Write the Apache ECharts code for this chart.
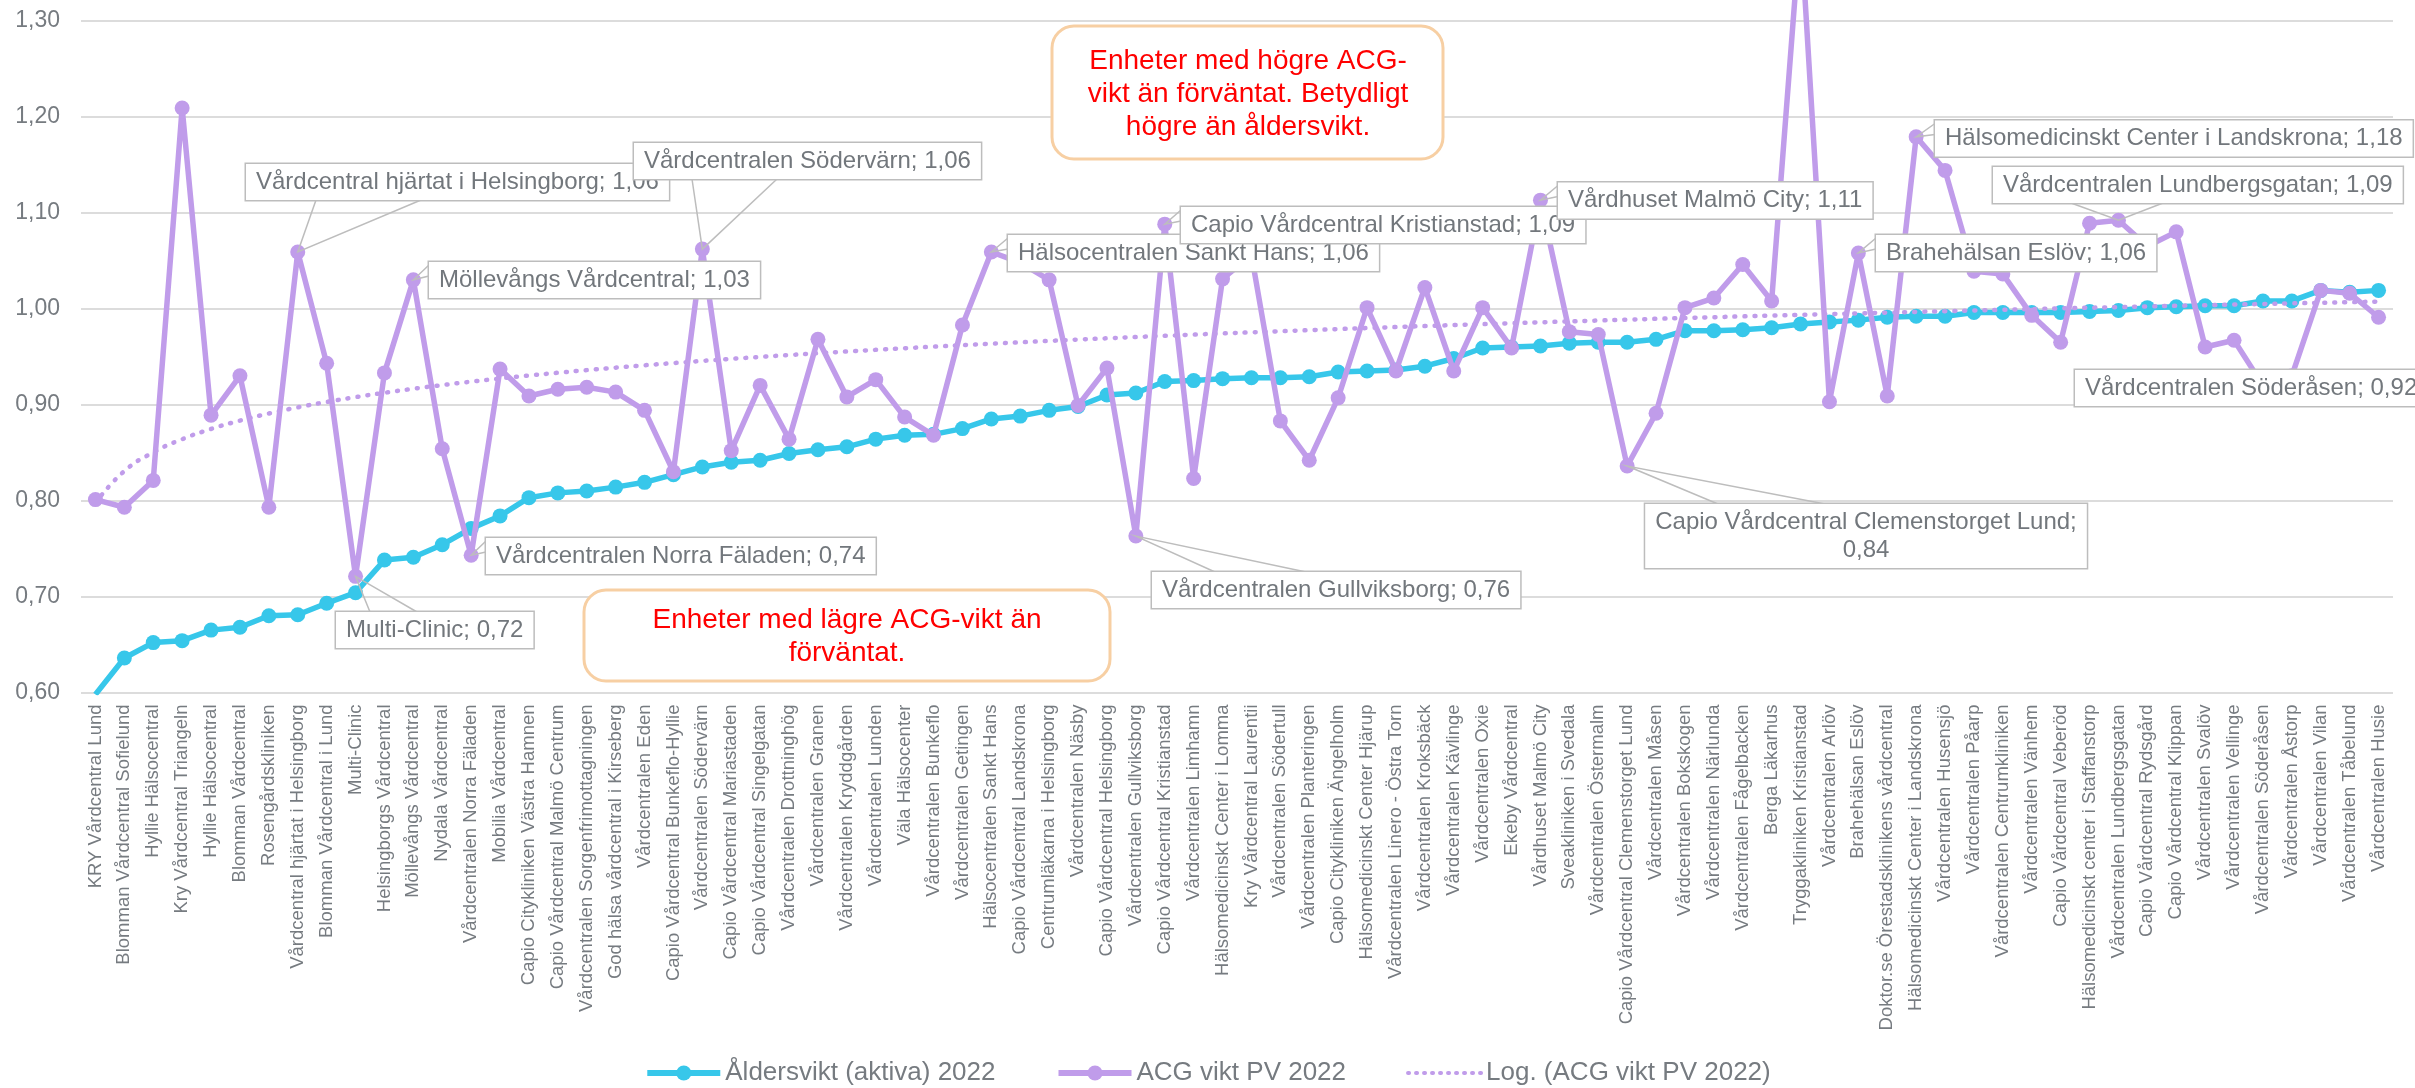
<!DOCTYPE html>
<html>
<head>
<meta charset="utf-8">
<script src="https://cdn.jsdelivr.net/npm/echarts@6/dist/echarts.min.js"></script>
<style>
  html, body { margin: 0; padding: 0; background: #ffffff; }
  #chart { width: 2415px; height: 1088px; }
</style>
</head>
<body>
<div id="chart"></div>
<script>
const categories = [
  "KRY Vårdcentral Lund", "Blomman Vårdcentral Sofielund", "Hyllie Hälsocentral", "Kry Vårdcentral Triangeln",
  "Hyllie Hälsocentral", "Blomman Vårdcentral", "Rosengårdskliniken", "Vårdcentral hjärtat i Helsingborg",
  "Blomman Vårdcentral i Lund", "Multi-Clinic", "Helsingborgs Vårdcentral", "Möllevångs Vårdcentral",
  "Nydala Vårdcentral", "Vårdcentralen Norra Fäladen", "Mobilia Vårdcentral", "Capio Citykliniken Västra Hamnen",
  "Capio Vårdcentral Malmö Centrum", "Vårdcentralen Sorgenfrimottagningen", "God hälsa vårdcentral i Kirseberg", "Vårdcentralen Eden",
  "Capio Vårdcentral Bunkeflo-Hyllie", "Vårdcentralen Södervärn", "Capio Vårdcentral Mariastaden", "Capio Vårdcentral Singelgatan",
  "Vårdcentralen Drottninghög", "Vårdcentralen Granen", "Vårdcentralen Kryddgården", "Vårdcentralen Lunden",
  "Väla Hälsocenter", "Vårdcentralen Bunkeflo", "Vårdcentralen Getingen", "Hälsocentralen Sankt Hans",
  "Capio Vårdcentral Landskrona", "Centrumläkarna i Helsingborg", "Vårdcentralen Näsby", "Capio Vårdcentral Helsingborg",
  "Vårdcentralen Gullviksborg", "Capio Vårdcentral Kristianstad", "Vårdcentralen Limhamn", "Hälsomedicinskt Center i Lomma",
  "Kry Vårdcentral Laurentii", "Vårdcentralen Södertull", "Vårdcentralen Planteringen", "Capio Citykliniken Ängelholm",
  "Hälsomedicinskt Center Hjärup", "Vårdcentralen Linero - Östra Torn", "Vårdcentralen Kroksbäck", "Vårdcentralen Kävlinge",
  "Vårdcentralen Oxie", "Ekeby Vårdcentral", "Vårdhuset Malmö City", "Sveakliniken i Svedala",
  "Vårdcentralen Östermalm", "Capio Vårdcentral Clemenstorget Lund", "Vårdcentralen Måsen", "Vårdcentralen Bokskogen",
  "Vårdcentralen Närlunda", "Vårdcentralen Fågelbacken", "Berga Läkarhus", "Tryggakliniken Kristianstad",
  "Vårdcentralen Arlöv", "Brahehälsan Eslöv", "Doktor.se Örestadsklinikens vårdcentral", "Hälsomedicinskt Center i Landskrona",
  "Vårdcentralen Husensjö", "Vårdcentralen Påarp", "Vårdcentralen Centrumkliniken", "Vårdcentralen Vänhem",
  "Capio Vårdcentral Veberöd", "Hälsomedicinskt center i Staffanstorp", "Vårdcentralen Lundbergsgatan", "Capio Vårdcentral Rydsgård",
  "Capio Vårdcentral Klippan", "Vårdcentralen Svalöv", "Vårdcentralen Vellinge", "Vårdcentralen Söderåsen",
  "Vårdcentralen Åstorp", "Vårdcentralen Vilan", "Vårdcentralen Tåbelund", "Vårdcentralen Husie"
];

const aldersvikt = [
  0.598, 0.636, 0.652, 0.654, 0.665, 0.668, 0.680, 0.681, 0.693, 0.704,
  0.738, 0.741, 0.754, 0.771, 0.784, 0.803, 0.808, 0.810, 0.814, 0.819,
  0.827, 0.835, 0.840, 0.842, 0.849, 0.853, 0.856, 0.864, 0.868, 0.869,
  0.875, 0.885, 0.888, 0.894, 0.898, 0.910, 0.912, 0.924, 0.925, 0.927,
  0.928, 0.928, 0.929, 0.934, 0.935, 0.936, 0.940, 0.948, 0.959, 0.960,
  0.961, 0.964, 0.965, 0.965, 0.968, 0.977, 0.977, 0.978, 0.980, 0.984,
  0.986, 0.988, 0.991, 0.992, 0.992, 0.996, 0.996, 0.996, 0.996, 0.997,
  0.998, 1.001, 1.002, 1.003, 1.003, 1.008, 1.008, 1.019, 1.017, 1.019
];

const acgVikt = [
  0.801, 0.793, 0.821, 1.209, 0.889, 0.930, 0.793, 1.059, 0.943, 0.721,
  0.933, 1.030, 0.854, 0.743, 0.937, 0.909, 0.916, 0.918, 0.913, 0.894,
  0.830, 1.062, 0.852, 0.920, 0.864, 0.968, 0.908, 0.926, 0.887, 0.868,
  0.983, 1.059, 1.048, 1.030, 0.899, 0.938, 0.763, 1.088, 0.823, 1.031,
  1.056, 0.883, 0.842, 0.907, 1.001, 0.935, 1.022, 0.935, 1.001, 0.959,
  1.113, 0.976, 0.973, 0.836, 0.891, 1.001, 1.011, 1.046, 1.008, 1.400,
  0.903, 1.058, 0.909, 1.179, 1.144, 1.039, 1.036, 0.993, 0.965, 1.089,
  1.092, 1.065, 1.080, 0.960, 0.967, 0.920, 0.930, 1.019, 1.016, 0.991
];

const seriesNames = ["Åldersvikt (aktiva) 2022", "ACG vikt PV 2022", "Log. (ACG vikt PV 2022)"];
const yMin = 0.6, yMax = 1.3, yStep = 0.1;

// labelled points (index into categories)
const labelledPoints = [7, 11, 9, 13, 21, 31, 36, 37, 50, 53, 61, 63, 70, 75];

// Logarithmic trendline (least squares of ACG on ln(x)), as Excel computes it
function logTrend(values) {
  const n = values.length;
  let sx = 0, sy = 0, sxx = 0, sxy = 0;
  values.forEach((v, i) => {
    const lx = Math.log(i + 1);
    sx += lx; sy += v; sxx += lx * lx; sxy += lx * v;
  });
  const a = (n * sxy - sx * sy) / (n * sxx - sx * sx);
  const b = (sy - a * sx) / n;
  return values.map((_, i) => a * Math.log(i + 1) + b);
}
const trend = logTrend(acgVikt);

const FONT = '"Liberation Sans", Arial, sans-serif';
const TXT = '#767b80';
const CYAN = '#37C7EA';
const PURPLE = '#C09CEA';
const fmt = v => v.toFixed(2).replace('.', ',');

const chart = echarts.init(document.getElementById('chart'), null, { renderer: 'canvas' });

chart.setOption({
  animation: false,
  backgroundColor: '#ffffff',
  textStyle: { fontFamily: FONT },
  grid: { left: 81, right: 22, top: 20.7, bottom: 395.5, containLabel: false },
  legend: {
    top: 1055,
    left: 'center',
    itemWidth: 73,
    itemHeight: 19,
    itemGap: 60,
    textStyle: { fontSize: 26, color: TXT, fontFamily: FONT },
    data: [
      { name: seriesNames[0], itemStyle: { color: CYAN }, lineStyle: { color: CYAN, width: 6 } },
      { name: seriesNames[1], itemStyle: { color: PURPLE }, lineStyle: { color: PURPLE, width: 6 } },
      { name: seriesNames[2], itemStyle: { opacity: 0 }, lineStyle: { color: PURPLE, width: 4, type: [1, 7], cap: 'round' } }
    ]
  },
  xAxis: {
    type: 'category',
    data: categories,
    boundaryGap: true,
    axisLine: { show: false },
    axisTick: { show: false },
    axisLabel: { rotate: 90, interval: 0, fontSize: 18.5, color: TXT, margin: 12, fontFamily: FONT }
  },
  yAxis: {
    type: 'value',
    min: yMin, max: yMax, interval: yStep,
    axisLine: { show: false },
    axisTick: { show: false },
    axisLabel: { formatter: v => fmt(v), fontSize: 23, color: TXT, margin: 21, fontFamily: FONT },
    splitLine: { lineStyle: { color: '#DCDCDC', width: 2 } }
  },
  series: [
    {
      name: seriesNames[0], type: 'line', data: aldersvikt,
      symbol: 'circle', symbolSize: 15,
      lineStyle: { color: CYAN, width: 5.5 },
      itemStyle: { color: CYAN },
      z: 2
    },
    {
      name: seriesNames[1], type: 'line', data: acgVikt,
      symbol: 'circle', symbolSize: 15, clip: false,
      lineStyle: { color: PURPLE, width: 5.5 },
      itemStyle: { color: PURPLE },
      z: 3
    },
    {
      name: seriesNames[2], type: 'line', data: trend,
      symbol: 'none', showSymbol: false, smooth: true,
      lineStyle: { color: PURPLE, width: 4.5, type: [1, 9], cap: 'round' },
      itemStyle: { color: PURPLE },
      z: 4
    }
  ]
});

// Callout label layout (box top-left in px, wedge side and base offsets)
const labelLayout = {
  7:  { x: 246,  y: 164,   side: 'bottom', b: [70, 175] },
  9:  { x: 336,  y: 612,   side: 'top',    b: [34, 81] },
  11: { x: 429,  y: 262,   side: 'left',   b: [3, 14] },
  13: { x: 486,  y: 538,   side: 'left',   b: [3, 14] },
  21: { x: 634,  y: 143,   side: 'bottom', b: [58, 143] },
  31: { x: 1008, y: 235,   side: 'left',   b: [3, 14] },
  36: { x: 1152, y: 572,   side: 'top',    b: [63, 154] },
  37: { x: 1181, y: 207,   side: 'left',   b: [3, 14] },
  50: { x: 1558, y: 182.5, side: 'left',   b: [3, 14] },
  53: { x: 1645, y: 504,   side: 'top',    b: [73, 180], cx: 1866, twoLine: true },
  61: { x: 1876, y: 235,   side: 'left',   b: [3, 14] },
  63: { x: 1935, y: 120.5, side: 'left',   b: [3, 14] },
  70: { x: 1993, y: 167,   side: 'bottom', b: [78, 170] },
  75: { x: 2075, y: 370,   side: 'none' }
};

function buildGraphics() {
  const els = [];
  // annotation boxes
  els.push({ type: 'rect', z: 50, shape: { x: 1052, y: 26, width: 391, height: 133, r: 22 },
    style: { fill: '#ffffff', stroke: '#F7CFA3', lineWidth: 3 } });
  els.push({ type: 'text', z: 51, x: 1248, y: 94,
    style: { text: 'Enheter med högre ACG-\nvikt än förväntat. Betydligt\nhögre än åldersvikt.',
      font: '28px ' + FONT, fill: '#FF0000', align: 'center', verticalAlign: 'middle',
      textAlign: 'center', textVerticalAlign: 'middle', lineHeight: 33 } });
  els.push({ type: 'rect', z: 50, shape: { x: 584, y: 590, width: 526, height: 91, r: 22 },
    style: { fill: '#ffffff', stroke: '#F7CFA3', lineWidth: 3 } });
  els.push({ type: 'text', z: 51, x: 847, y: 637,
    style: { text: 'Enheter med lägre ACG-vikt än\nförväntat.',
      font: '28px ' + FONT, fill: '#FF0000', align: 'center', verticalAlign: 'middle',
      textAlign: 'center', textVerticalAlign: 'middle', lineHeight: 33 } });

  labelledPoints.slice().sort((a, b) => a - b).forEach((idx, k) => {
    const L = labelLayout[idx];
    const p = chart.convertToPixel({ gridIndex: 0 }, [idx, acgVikt[idx]]);
    const h = L.twoLine ? 64 : 36;
    let pts = null;
    if (L.side === 'bottom') pts = [[L.x + L.b[0], L.y + h], p, [L.x + L.b[1], L.y + h]];
    else if (L.side === 'top') pts = [[L.x + L.b[0], L.y], p, [L.x + L.b[1], L.y]];
    else if (L.side === 'left') pts = [[L.x, L.y + L.b[0]], p, [L.x, L.y + L.b[1]]];
    if (pts) {
      els.push({ type: 'polyline', z: 60 + k * 2, shape: { points: pts },
        style: { stroke: '#BDBDBD', lineWidth: 1.5, fill: null } });
    }
    const txt = L.twoLine
      ? categories[idx] + ';\n' + fmt(acgVikt[idx])
      : categories[idx] + '; ' + fmt(acgVikt[idx]);
    els.push({ type: 'text', z: 61 + k * 2,
      x: L.twoLine ? L.cx : L.x, y: L.y,
      style: { text: txt, font: '24px ' + FONT, fill: '#72777c',
        align: L.twoLine ? 'center' : 'left', verticalAlign: 'top',
        textAlign: L.twoLine ? 'center' : 'left', textVerticalAlign: 'top',
        lineHeight: 28, backgroundColor: '#ffffff', borderColor: '#BDBDBD', borderWidth: 1.5,
        padding: [4, 10, 4, 10] } });
  });
  return els;
}

chart.setOption({ graphic: buildGraphics() });
</script>
</body>
</html>
